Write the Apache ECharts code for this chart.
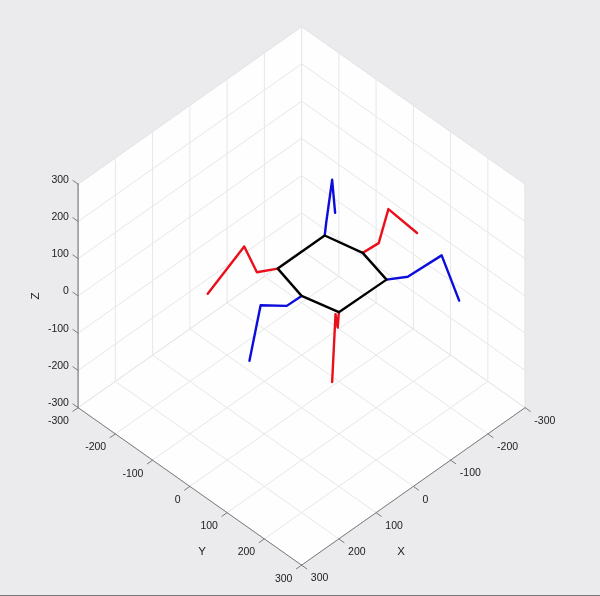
<!DOCTYPE html>
<html>
<head>
<meta charset="utf-8">
<style>html,body{margin:0;padding:0;background:#ebebed}#c{width:600px;height:596px}</style>
<script src="https://cdn.jsdelivr.net/npm/echarts@6/dist/echarts.min.js"></script>
</head>
<body>
<div id="c"></div>
<script>
// Hexapod skeleton, world coordinates [x, y, z]
const body = [[0,0,0],[-20,-84,0],[-146,-84,0],[-164,0,0],[-145,83,0],[-19,81,0],[0,0,0]];
const legRedA  = [[-20,-84,0],[15,-105,0],[36,-118,75],[97,-155,-35]];
const legRedB  = [[-164,0,0],[-204,3,0],[-228,5,76],[-299,11,-34]];
const legRedC  = [[-19,81,0],[12,109,0],[61,152,101],[101,183,-31]];
const legBlueA = [[-146,-84,0],[-172,-106,0],[-216,-134,65],[-238,-148,-49]];
const legBlueB = [[-145,83,0],[-179,106,0],[-234,142,44],[-262,161,-84]];
const legBlueC = [[0,0,0],[39,-1,0],[109,-1,51],[139,-1,-77]];
const ticks = [-300,-200,-100,0,100,200,300];
const tickLabels = ['-300','-200','-100','0','100','200','300'];
const LIM = 300, TICK = 14;

// View of the 3D box (isometric camera)
const P = ([x,y,z]) => [301.6 + (y-x)*0.3725, 295.9 + (x+y)*0.2625 - z*0.3725];

const seg = (list) => { const o=[]; list.forEach(s=>{o.push(P(s[0]),P(s[1]),[null,null]);}); return o; };

const gridSegs = [];
ticks.forEach(t=>{
  gridSegs.push([[t,-LIM,-LIM],[t,LIM,-LIM]]);      // floor, x = t
  gridSegs.push([[-LIM,t,-LIM],[LIM,t,-LIM]]);      // floor, y = t
  gridSegs.push([[-LIM,t,-LIM],[-LIM,t,LIM]]);      // wall x=-300, y = t
  gridSegs.push([[t,-LIM,-LIM],[t,-LIM,LIM]]);      // wall y=-300, x = t
  gridSegs.push([[-LIM,-LIM,t],[-LIM,LIM,t]]);      // wall x=-300, z = t
  gridSegs.push([[-LIM,-LIM,t],[LIM,-LIM,t]]);      // wall y=-300, z = t
});
const axisSegs = [
  [[LIM,-LIM,-LIM],[LIM,LIM,-LIM]],
  [[-LIM,LIM,-LIM],[LIM,LIM,-LIM]]
];
ticks.forEach(t=>{
  axisSegs.push([[LIM,t,-LIM],[LIM+TICK,t,-LIM]]);
  axisSegs.push([[t,LIM,-LIM],[t,LIM+TICK,-LIM]]);
  axisSegs.push([[LIM,-LIM,t],[LIM,-LIM-TICK,t]]);
});
const paneCorners = [[-LIM,-LIM,LIM],[LIM,-LIM,LIM],[LIM,-LIM,-LIM],[LIM,LIM,-LIM],[-LIM,LIM,-LIM],[-LIM,LIM,LIM]];

const line = (data,color,width,z) => ({type:'line',data,symbol:'none',silent:true,connectNulls:false,
  z,lineStyle:{color,width,cap:'round',join:'round'},animation:false});
const labelSeries = (data,position,offset,fontSize,rotate) => ({type:'scatter',symbolSize:0,silent:true,z:8,animation:false,
  itemStyle:{opacity:1},
  data:data.map(d=>({name:d[0],value:P(d[1])})),
  label:{show:true,position,distance:9.2,offset,fontSize,rotate:rotate||0,color:'#1c1c1c',opacity:1,fontFamily:'"Liberation Sans",Arial,sans-serif',
    formatter:p=>p.name}});

const option = {
  animation:false,
  backgroundColor:'#ebebed',
  grid:{left:0,right:0,top:0,bottom:0},
  xAxis:{type:'value',min:0,max:600,show:false},
  yAxis:{type:'value',min:0,max:596,inverse:true,show:false},
  series:[
    {type:'custom',silent:true,z:1,animation:false,data:[0],
     renderItem:(p,api)=>({type:'polygon',
       shape:{points:paneCorners.map(c=>api.coord(P(c)))},
       style:{fill:'#fefeff',stroke:'#e6e6e8',lineWidth:1}})},
    line(seg(gridSegs),'#e7e7e9',1,2),
    line(seg([[[LIM,-LIM,-LIM],[LIM,-LIM,LIM]]]),'#9a9a9c',1.6,3),
    line(seg(axisSegs),'#7c7c7e',1,3),
    line(legRedA.map(P),'#ea0f1a',2.4,4),
    line(legRedB.map(P),'#ea0f1a',2.4,4),
    line(legRedC.map(P),'#ea0f1a',2.4,4),
    line(legBlueA.map(P),'#0c0cdc',2.4,4),
    line(legBlueB.map(P),'#0c0cdc',2.4,4),
    line(legBlueC.map(P),'#0c0cdc',2.4,4),
    line(body.map(P),'#000000',2.4,5),
    labelSeries(ticks.map((t,i)=>[tickLabels[i],[LIM,-LIM,t]]),'left',[0,-4.3],10.5),
    labelSeries(ticks.map((t,i)=>[tickLabels[i],[LIM,t,-LIM]]),'left',[0,13.6],10.5),
    labelSeries(ticks.map((t,i)=>[tickLabels[i],[t,LIM,-LIM]]),'right',[0,13.4],10.5),
    labelSeries([['X',[141,408,-LIM]]],'inside',[0,0],11.5),
    labelSeries([['Y',[408,141,-LIM]]],'inside',[0,0],11.5),
    labelSeries([['Z',[357,-357,0]]],'inside',[0,0],11.5,90)
  ],
  graphic:[{type:'rect',left:0,top:595,shape:{width:600,height:1},style:{fill:'#77777a'},silent:true,z:20}]
};
const chart = echarts.init(document.getElementById('c'),null,{renderer:'canvas'});
chart.setOption(option);
</script>
</body>
</html>
